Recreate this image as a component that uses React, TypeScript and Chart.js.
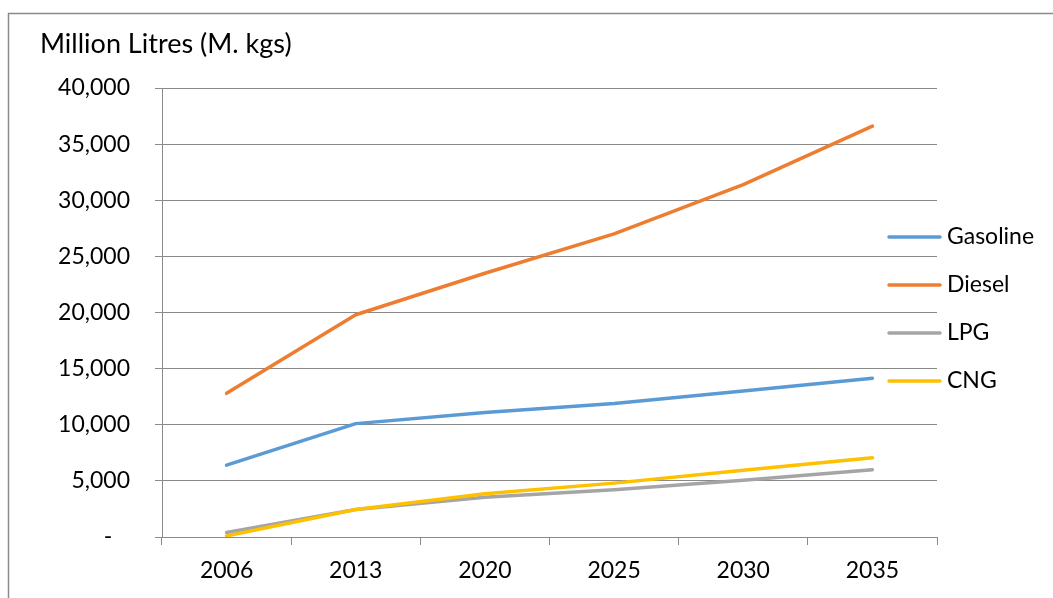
import React, { useEffect, useRef } from "react";
import { Chart, registerables } from "chart.js";

Chart.register(...registerables);

const categories = ["2006", "2013", "2020", "2025", "2030", "2035"];
const gasoline = [6400, 10100, 11100, 11900, 13000, 14150];
const diesel = [12800, 19800, 23500, 27000, 31400, 36600];
const lpg = [400, 2450, 3550, 4200, 5050, 6000];
const cng = [100, 2450, 3850, 4800, 5950, 7050];
const seriesNames = ["Gasoline", "Diesel", "LPG", "CNG"];
const yTitle = "Million Litres (M. kgs)";

const FONT = "Lato";
const FS = 23;

const framePlugin = {
  id: "frame",
  beforeDraw(chart: any) {
    const ctx = chart.ctx;
    ctx.save();
    ctx.strokeStyle = "#8a8a8a";
    ctx.lineWidth = 1.5;
    ctx.beginPath();
    ctx.moveTo(8.5, chart.height + 2);
    ctx.lineTo(8.5, 13.5);
    ctx.lineTo(chart.width + 2, 13.5);
    ctx.stroke();
    ctx.restore();
  },
  afterDraw(chart: any) {
    const ctx = chart.ctx;
    ctx.save();
    ctx.fillStyle = "#000";
    ctx.font = `27px ${FONT}`;
    ctx.textBaseline = "alphabetic";
    ctx.textAlign = "left";
    ctx.fillText(yTitle, 40, 53);
    // legend
    ctx.font = `${FS}px ${FONT}`;
    ctx.textBaseline = "middle";
    const items = chart.data.datasets;
    const gap = 48;
    const startY = 237;
    items.forEach((ds: any, i: number) => {
      const y = startY + i * gap;
      ctx.strokeStyle = ds.borderColor;
      ctx.lineWidth = 3.5;
      ctx.lineCap = "round";
      ctx.beginPath();
      ctx.moveTo(889, y);
      ctx.lineTo(940, y);
      ctx.stroke();
      ctx.fillText(ds.label, 947, y);
    });
    ctx.restore();
  },
};

export default function App() {
  const ref = useRef<HTMLCanvasElement>(null);
  useEffect(() => {
    document.body.style.margin = "0";
    document.body.style.overflow = "hidden";
    const colors = ["#5B9BD5", "#ED7D31", "#A5A5A5", "#FFC000"];
    const values = [gasoline, diesel, lpg, cng];
    const chart = new Chart(ref.current as HTMLCanvasElement, {
      type: "line",
      data: {
        labels: categories,
        datasets: values.map((v, i) => ({
          label: seriesNames[i],
          data: v,
          borderColor: colors[i],
          backgroundColor: colors[i],
          borderWidth: 3.5,
          borderCapStyle: "round",
          borderJoinStyle: "round",
          pointRadius: 0,
          tension: 0,
          order: 3 - i,
        })),
      },
      options: {
        animation: false,
        responsive: false,
        layout: { padding: { top: 88, right: 116, left: 0, bottom: 0 } },
        plugins: { legend: { display: false }, tooltip: { enabled: false } },
        scales: {
          x: {
            offset: true,
            afterFit: (s: any) => {
              s.height = 61;
            },
            grid: {
              drawOnChartArea: false,
              drawTicks: true,
              tickLength: 8,
              color: "#8a8a8a",
              offset: true,
            },
            border: { color: "#8a8a8a", width: 1 },
            ticks: {
              color: "#000",
              font: { family: FONT, size: FS },
              padding: 12,
              maxRotation: 0,
            },
          },
          y: {
            min: 0,
            max: 40000,
            afterFit: (s: any) => {
              s.width = 162;
            },
            grid: {
              color: "#8a8a8a",
              tickLength: 7,
              drawTicks: true,
            },
            border: { color: "#8a8a8a", width: 1 },
            ticks: {
              stepSize: 5000,
              color: "#000",
              font: { family: FONT, size: FS },
              padding: 25,
              callback: (v: any) =>
                Number(v) === 0
                  ? "-\u00a0\u00a0\u00a0"
                  : Number(v).toLocaleString("en-US"),
            },
          },
        },
      },
      plugins: [framePlugin],
    });
    return () => chart.destroy();
  }, []);
  return <canvas ref={ref} width={1053} height={598} style={{ display: "block" }} />;
}
